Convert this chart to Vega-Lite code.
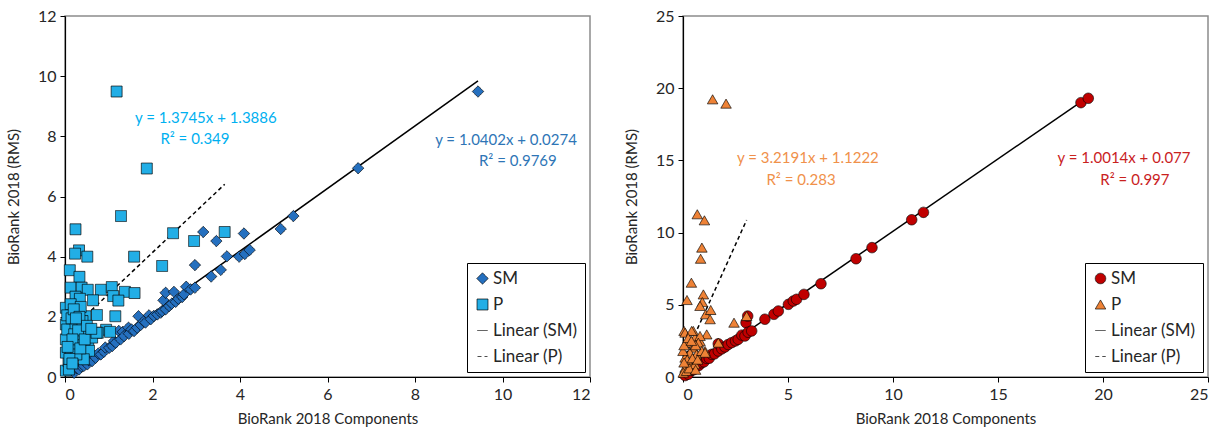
{
  "$schema": "https://vega.github.io/schema/vega-lite/v6.json",
  "padding": {"left": 5, "top": 7, "right": 5, "bottom": 5},
  "background": "white",
  "spacing": 31,
  "config": {
    "font": "Lato",
    "view": {"stroke": "#8c8c8c", "strokeWidth": 1.5},
    "axis": {"grid": false, "domainColor": "black", "domainWidth": 1.2, "tickColor": "black", "tickSize": 5, "labelFontSize": 16, "titleFontSize": 15, "titleFontWeight": "normal", "labelColor": "#262626", "titleColor": "#262626", "labelPadding": 4},
    "axisY": {"titlePadding": 16},
    "axisX": {"titlePadding": 9},
    "legend": {"title": null, "orient": "bottom-right", "offset": 5, "strokeColor": "black", "fillColor": "white", "padding": 7, "labelFontSize": 17, "labelColor": "#262626", "rowPadding": 8, "labelOffset": 2, "symbolOpacity": 1, "symbolSize": 576, "symbolStrokeColor": "black"}
  },
  "datasets": {
    "left_points": [
      {"series":"SM","x":0.21,"y":0.14},{"series":"SM","x":0.26,"y":0.3},{"series":"SM","x":0.32,"y":0.25},{"series":"SM","x":0.38,"y":0.35},{"series":"SM","x":0.43,"y":0.37},{"series":"SM","x":0.51,"y":0.42},{"series":"SM","x":0.55,"y":0.55},{"series":"SM","x":0.62,"y":0.53},{"series":"SM","x":0.66,"y":0.72},{"series":"SM","x":0.7,"y":0.64},{"series":"SM","x":0.76,"y":0.78},{"series":"SM","x":0.82,"y":0.75},{"series":"SM","x":0.89,"y":0.84},{"series":"SM","x":0.92,"y":0.98},{"series":"SM","x":1.01,"y":0.97},{"series":"SM","x":1.08,"y":1.03},{"series":"SM","x":1.12,"y":1.2},{"series":"SM","x":1.16,"y":1.14},{"series":"SM","x":1.23,"y":1.53},{"series":"SM","x":1.27,"y":1.25},{"series":"SM","x":1.32,"y":1.5},{"series":"SM","x":1.35,"y":1.36},{"series":"SM","x":1.45,"y":1.64},{"series":"SM","x":1.46,"y":1.44},{"series":"SM","x":1.52,"y":1.58},{"series":"SM","x":1.58,"y":1.53},{"series":"SM","x":1.65,"y":1.64},{"series":"SM","x":1.68,"y":2.02},{"series":"SM","x":1.73,"y":1.73},{"series":"SM","x":1.8,"y":1.85},{"series":"SM","x":1.84,"y":1.81},{"series":"SM","x":1.92,"y":2.05},{"series":"SM","x":1.96,"y":1.92},{"series":"SM","x":2.03,"y":2.03},{"series":"SM","x":2.11,"y":2.08},{"series":"SM","x":2.19,"y":2.14},{"series":"SM","x":2.22,"y":2.19},{"series":"SM","x":2.25,"y":2.55},{"series":"SM","x":2.3,"y":2.8},{"series":"SM","x":2.3,"y":2.25},{"series":"SM","x":2.38,"y":2.36},{"series":"SM","x":2.44,"y":2.44},{"series":"SM","x":2.49,"y":2.83},{"series":"SM","x":2.53,"y":2.5},{"series":"SM","x":2.59,"y":2.6},{"series":"SM","x":2.68,"y":2.66},{"series":"SM","x":2.72,"y":2.75},{"series":"SM","x":2.77,"y":3.0},{"series":"SM","x":2.87,"y":2.91},{"series":"SM","x":2.97,"y":2.97},{"series":"SM","x":2.97,"y":3.72},{"series":"SM","x":3.16,"y":4.82},{"series":"SM","x":3.34,"y":3.34},{"series":"SM","x":3.46,"y":4.52},{"series":"SM","x":3.56,"y":3.56},{"series":"SM","x":3.7,"y":4.01},{"series":"SM","x":3.98,"y":4.0},{"series":"SM","x":4.09,"y":4.77},{"series":"SM","x":4.11,"y":4.09},{"series":"SM","x":4.22,"y":4.22},{"series":"SM","x":4.93,"y":4.92},{"series":"SM","x":5.22,"y":5.35},{"series":"SM","x":6.7,"y":6.94},{"series":"SM","x":9.44,"y":9.49},
      {"series":"P","x":1.18,"y":9.49},{"series":"P","x":1.87,"y":6.93},{"series":"P","x":1.28,"y":5.35},{"series":"P","x":0.24,"y":4.91},{"series":"P","x":0.32,"y":4.21},{"series":"P","x":0.23,"y":4.1},{"series":"P","x":0.51,"y":4.0},{"series":"P","x":1.58,"y":4.0},{"series":"P","x":2.47,"y":4.78},{"series":"P","x":2.95,"y":4.52},{"series":"P","x":3.65,"y":4.82},{"series":"P","x":2.22,"y":3.69},{"series":"P","x":0.11,"y":3.55},{"series":"P","x":0.33,"y":3.33},{"series":"P","x":0.13,"y":2.97},{"series":"P","x":0.38,"y":2.97},{"series":"P","x":0.52,"y":2.9},{"series":"P","x":0.82,"y":2.9},{"series":"P","x":1.07,"y":2.99},{"series":"P","x":1.1,"y":2.69},{"series":"P","x":1.37,"y":2.83},{"series":"P","x":1.59,"y":2.79},{"series":"P","x":1.22,"y":2.54},{"series":"P","x":0.64,"y":2.55},{"series":"P","x":0.24,"y":2.67},{"series":"P","x":0.34,"y":2.6},{"series":"P","x":1.15,"y":2.02},{"series":"P","x":0.73,"y":2.06},{"series":"P","x":0.47,"y":2.02},{"series":"P","x":0.94,"y":1.57},{"series":"P","x":0.75,"y":1.47},{"series":"P","x":0.53,"y":1.58},{"series":"P","x":0.53,"y":1.14},{"series":"P","x":0.55,"y":0.87},{"series":"P","x":0.3,"y":0.75},{"series":"P","x":0.08,"y":1.17},{"series":"P","x":0.02,"y":0.21},{"series":"P","x":0.08,"y":0.53},{"series":"P","x":0.02,"y":0.81},{"series":"P","x":0.02,"y":1.25},{"series":"P","x":0.02,"y":1.75},{"series":"P","x":0.02,"y":2.3},{"series":"P","x":0.05,"y":1.58},{"series":"P","x":0.13,"y":2.42},{"series":"P","x":0.21,"y":2.14},{"series":"P","x":0.24,"y":1.75},{"series":"P","x":0.4,"y":1.42},{"series":"P","x":0.28,"y":1.09},{"series":"P","x":0.13,"y":0.92},{"series":"P","x":0.21,"y":1.42},{"series":"P","x":0.4,"y":1.86},{"series":"P","x":0.36,"y":2.33},{"series":"P","x":0.09,"y":0.25},{"series":"P","x":0.43,"y":0.59},{"series":"P","x":0.62,"y":1.31},{"series":"P","x":0.72,"y":1.47},{"series":"P","x":1.03,"y":1.5},{"series":"P","x":0.26,"y":0.75},{"series":"P","x":0.05,"y":2.05},{"series":"P","x":0.15,"y":1.95},{"series":"P","x":0.3,"y":1.55},{"series":"P","x":0.17,"y":1.25},{"series":"P","x":0.1,"y":0.6},{"series":"P","x":0.35,"y":0.95},{"series":"P","x":0.45,"y":1.25},{"series":"P","x":0.2,"y":2.25},{"series":"P","x":0.06,"y":1.0},{"series":"P","x":0.33,"y":2.0},{"series":"P","x":0.5,"y":1.7},{"series":"P","x":0.6,"y":1.6},{"series":"P","x":0.17,"y":0.45},{"series":"P","x":0.25,"y":1.95}
    ],
    "left_trend": [
      {"series":"Linear (SM)","x":0.2,"y":0.2354},{"series":"Linear (SM)","x":9.44,"y":9.847},
      {"series":"Linear (P)","x":0.02,"y":1.416},{"series":"Linear (P)","x":3.65,"y":6.406}
    ],
    "left_labels": [
      {"series":"P","label":"y = 1.3745x + 1.3886","x":3.22,"y":8.61},
      {"series":"P","label":"R² = 0.349","x":2.97,"y":7.91},
      {"series":"SM","label":"y = 1.0402x + 0.0274","x":10.08,"y":7.88},
      {"series":"SM","label":"R² = 0.9769","x":10.35,"y":7.18}
    ],
    "right_points": [
      {"series":"SM","x":0.1,"y":0.1},{"series":"SM","x":0.25,"y":0.19},{"series":"SM","x":0.41,"y":0.46},{"series":"SM","x":0.5,"y":0.5},{"series":"SM","x":0.65,"y":0.76},{"series":"SM","x":0.75,"y":0.8},{"series":"SM","x":0.89,"y":0.99},{"series":"SM","x":1.0,"y":1.05},{"series":"SM","x":1.13,"y":1.29},{"series":"SM","x":1.25,"y":1.3},{"series":"SM","x":1.37,"y":1.57},{"series":"SM","x":1.5,"y":1.6},{"series":"SM","x":1.68,"y":1.8},{"series":"SM","x":1.68,"y":2.3},{"series":"SM","x":1.85,"y":1.95},{"series":"SM","x":2.0,"y":2.08},{"series":"SM","x":2.15,"y":2.25},{"series":"SM","x":2.32,"y":2.38},{"series":"SM","x":2.5,"y":2.5},{"series":"SM","x":2.63,"y":2.61},{"series":"SM","x":2.8,"y":2.9},{"series":"SM","x":2.95,"y":2.84},{"series":"SM","x":3.0,"y":3.76},{"series":"SM","x":3.08,"y":4.22},{"series":"SM","x":3.1,"y":3.1},{"series":"SM","x":3.27,"y":3.19},{"series":"SM","x":3.9,"y":4.0},{"series":"SM","x":4.33,"y":4.34},{"series":"SM","x":4.54,"y":4.57},{"series":"SM","x":5.02,"y":5.03},{"series":"SM","x":5.25,"y":5.26},{"series":"SM","x":5.41,"y":5.38},{"series":"SM","x":5.76,"y":5.72},{"series":"SM","x":6.57,"y":6.46},{"series":"SM","x":8.24,"y":8.19},{"series":"SM","x":9.0,"y":8.96},{"series":"SM","x":10.89,"y":10.89},{"series":"SM","x":11.45,"y":11.4},{"series":"SM","x":18.95,"y":19.0},{"series":"SM","x":19.3,"y":19.3},
      {"series":"P","x":1.41,"y":19.23},{"series":"P","x":2.05,"y":18.93},{"series":"P","x":0.68,"y":11.27},{"series":"P","x":1.02,"y":10.85},{"series":"P","x":0.9,"y":8.96},{"series":"P","x":0.84,"y":8.19},{"series":"P","x":0.4,"y":6.53},{"series":"P","x":0.19,"y":5.33},{"series":"P","x":0.97,"y":5.72},{"series":"P","x":0.92,"y":5.19},{"series":"P","x":0.81,"y":4.92},{"series":"P","x":1.08,"y":4.34},{"series":"P","x":1.32,"y":4.64},{"series":"P","x":1.29,"y":4.0},{"series":"P","x":2.43,"y":3.76},{"series":"P","x":3.03,"y":4.22},{"series":"P","x":0.05,"y":3.19},{"series":"P","x":0.49,"y":3.19},{"series":"P","x":1.13,"y":2.95},{"series":"P","x":0.57,"y":2.72},{"series":"P","x":0.81,"y":2.49},{"series":"P","x":1.05,"y":1.8},{"series":"P","x":1.68,"y":2.38},{"series":"P","x":0.1,"y":3.07},{"series":"P","x":0.41,"y":3.19},{"series":"P","x":0.81,"y":2.84},{"series":"P","x":0.17,"y":2.38},{"series":"P","x":0.49,"y":2.03},{"series":"P","x":0.73,"y":2.38},{"series":"P","x":0.33,"y":1.68},{"series":"P","x":0.65,"y":1.57},{"series":"P","x":0.1,"y":1.34},{"series":"P","x":0.89,"y":1.8},{"series":"P","x":0.33,"y":0.99},{"series":"P","x":0.1,"y":0.64},{"series":"P","x":0.57,"y":0.88},{"series":"P","x":0.01,"y":0.3},{"series":"P","x":0.17,"y":0.42},{"series":"P","x":1.05,"y":1.68},{"series":"P","x":0.0,"y":1.8},{"series":"P","x":0.05,"y":2.2},{"series":"P","x":0.25,"y":2.7},{"series":"P","x":0.6,"y":2.2},{"series":"P","x":0.4,"y":2.5},{"series":"P","x":0.2,"y":1.2},{"series":"P","x":0.45,"y":1.3},{"series":"P","x":0.7,"y":1.2},{"series":"P","x":0.3,"y":0.6},{"series":"P","x":0.05,"y":1.0},{"series":"P","x":0.6,"y":0.5}
    ],
    "right_trend": [
      {"series":"Linear (SM)","x":0.1,"y":0.177},{"series":"Linear (SM)","x":19.3,"y":19.404},
      {"series":"Linear (P)","x":0.0,"y":1.1222},{"series":"Linear (P)","x":3.03,"y":10.876}
    ],
    "right_labels": [
      {"series":"P","label":"y = 3.2191x + 1.1222","x":5.95,"y":15.17},
      {"series":"P","label":"R² = 0.283","x":5.62,"y":13.64},
      {"series":"SM","label":"y = 1.0014x + 0.077","x":21.0,"y":15.17},
      {"series":"SM","label":"R² = 0.997","x":21.52,"y":13.64}
    ]
  },
  "hconcat": [
    {
      "width": 525,
      "height": 361,
      "encoding": {
        "x": {"field": "x", "type": "quantitative", "scale": {"domain": [0, 12], "nice": false}, "axis": {"values": [0,2,4,6,8,10,12], "title": "BioRank 2018 Components"}},
        "y": {"field": "y", "type": "quantitative", "scale": {"domain": [0, 12], "nice": false}, "axis": {"values": [0,2,4,6,8,10,12], "title": "BioRank 2018 (RMS)"}}
      },
      "layer": [
        {
          "data": {"name": "left_trend"},
          "transform": [{"filter": "datum.series == 'Linear (SM)'"}],
          "mark": {"type": "line", "color": "black", "strokeWidth": 1.5},
          "encoding": {}
        },
        {
          "data": {"name": "left_trend"},
          "transform": [{"filter": "datum.series == 'Linear (P)'"}],
          "mark": {"type": "line", "color": "black", "strokeWidth": 1.5, "strokeDash": [4, 3]},
          "encoding": {}
        },
        {
          "data": {"name": "left_points"},
          "mark": {"type": "point", "filled": true, "stroke": "black", "opacity": 1},
          "encoding": {
            "color": {"field": "series", "type": "nominal", "scale": {"domain": ["SM", "P", "Linear (SM)", "Linear (P)"], "range": ["#2570BF", "#22AEE6", "black", "black"]},
              "legend": {"encode": {"symbols": {"update": {"size": {"signal": "indexof(datum.value, 'Linear') == 0 ? 2304 : 75"}, "stroke": {"value": "black"}}}}}},
            "shape": {"field": "series", "type": "nominal", "scale": {"domain": ["SM", "P", "Linear (SM)", "Linear (P)"], "range": ["diamond", "square", "stroke", "stroke"]},
              "legend": {"encode": {"symbols": {"update": {"size": {"signal": "indexof(datum.value, 'Linear') == 0 ? 2304 : 75"}, "stroke": {"value": "black"}}}}}},
            "size": {"field": "series", "type": "nominal", "scale": {"domain": ["SM", "P", "Linear (SM)", "Linear (P)"], "range": [130, 100, 2304, 2304]},
              "legend": {"encode": {"symbols": {"update": {"size": {"signal": "indexof(datum.value, 'Linear') == 0 ? 2304 : 75"}, "stroke": {"value": "black"}}}}}},
            "strokeDash": {"field": "series", "type": "nominal", "scale": {"domain": ["SM", "P", "Linear (SM)", "Linear (P)"], "range": [[1, 0], [1, 0], [1, 0], [4, 3]]},
              "legend": {"encode": {"symbols": {"update": {"size": {"signal": "indexof(datum.value, 'Linear') == 0 ? 2304 : 75"}, "stroke": {"value": "black"}}}}}},
            "strokeWidth": {"field": "series", "type": "nominal", "scale": {"domain": ["SM", "P", "Linear (SM)", "Linear (P)"], "range": [0.7, 0.7, 1.5, 1.5]},
              "legend": {"encode": {"symbols": {"update": {"size": {"signal": "indexof(datum.value, 'Linear') == 0 ? 2304 : 75"}, "stroke": {"value": "black"}}}}}}
          }
        },
        {
          "data": {"name": "left_labels"},
          "transform": [{"filter": "datum.series == 'P'"}],
          "mark": {"type": "text", "color": "#00B0F0", "fontSize": 15, "align": "center", "baseline": "middle"},
          "encoding": {"text": {"field": "label"}}
        },
        {
          "data": {"name": "left_labels"},
          "transform": [{"filter": "datum.series == 'SM'"}],
          "mark": {"type": "text", "color": "#2E75B6", "fontSize": 15, "align": "center", "baseline": "middle"},
          "encoding": {"text": {"field": "label"}}
        }
      ]
    },
    {
      "width": 525,
      "height": 361,
      "encoding": {
        "x": {"field": "x", "type": "quantitative", "scale": {"domain": [0, 25], "nice": false}, "axis": {"values": [0,5,10,15,20,25], "title": "BioRank 2018 Components"}},
        "y": {"field": "y", "type": "quantitative", "scale": {"domain": [0, 25], "nice": false}, "axis": {"values": [0,5,10,15,20,25], "title": "BioRank 2018 (RMS)"}}
      },
      "layer": [
        {
          "data": {"name": "right_trend"},
          "transform": [{"filter": "datum.series == 'Linear (SM)'"}],
          "mark": {"type": "line", "color": "black", "strokeWidth": 1.5},
          "encoding": {}
        },
        {
          "data": {"name": "right_trend"},
          "transform": [{"filter": "datum.series == 'Linear (P)'"}],
          "mark": {"type": "line", "color": "black", "strokeWidth": 1.5, "strokeDash": [4, 3]},
          "encoding": {}
        },
        {
          "data": {"name": "right_points"},
          "mark": {"type": "point", "filled": true, "stroke": "black", "opacity": 1},
          "encoding": {
            "color": {"field": "series", "type": "nominal", "scale": {"domain": ["SM", "P", "Linear (SM)", "Linear (P)"], "range": ["#C00000", "#EE8236", "black", "black"]},
              "legend": {"encode": {"symbols": {"update": {"size": {"signal": "indexof(datum.value, 'Linear') == 0 ? 2304 : 75"}, "stroke": {"value": "black"}}}}}},
            "shape": {"field": "series", "type": "nominal", "scale": {"domain": ["SM", "P", "Linear (SM)", "Linear (P)"], "range": ["circle", "triangle-up", "stroke", "stroke"]},
              "legend": {"encode": {"symbols": {"update": {"size": {"signal": "indexof(datum.value, 'Linear') == 0 ? 2304 : 75"}, "stroke": {"value": "black"}}}}}},
            "size": {"field": "series", "type": "nominal", "scale": {"domain": ["SM", "P", "Linear (SM)", "Linear (P)"], "range": [110, 110, 2304, 2304]},
              "legend": {"encode": {"symbols": {"update": {"size": {"signal": "indexof(datum.value, 'Linear') == 0 ? 2304 : 75"}, "stroke": {"value": "black"}}}}}},
            "strokeDash": {"field": "series", "type": "nominal", "scale": {"domain": ["SM", "P", "Linear (SM)", "Linear (P)"], "range": [[1, 0], [1, 0], [1, 0], [4, 3]]},
              "legend": {"encode": {"symbols": {"update": {"size": {"signal": "indexof(datum.value, 'Linear') == 0 ? 2304 : 75"}, "stroke": {"value": "black"}}}}}},
            "strokeWidth": {"field": "series", "type": "nominal", "scale": {"domain": ["SM", "P", "Linear (SM)", "Linear (P)"], "range": [0.7, 0.7, 1.5, 1.5]},
              "legend": {"encode": {"symbols": {"update": {"size": {"signal": "indexof(datum.value, 'Linear') == 0 ? 2304 : 75"}, "stroke": {"value": "black"}}}}}}
          }
        },
        {
          "data": {"name": "right_labels"},
          "transform": [{"filter": "datum.series == 'P'"}],
          "mark": {"type": "text", "color": "#F0914A", "fontSize": 15, "align": "center", "baseline": "middle"},
          "encoding": {"text": {"field": "label"}}
        },
        {
          "data": {"name": "right_labels"},
          "transform": [{"filter": "datum.series == 'SM'"}],
          "mark": {"type": "text", "color": "#C9211E", "fontSize": 15, "align": "center", "baseline": "middle"},
          "encoding": {"text": {"field": "label"}}
        }
      ]
    }
  ],
  "resolve": {"scale": {"color": "independent", "shape": "independent", "size": "independent", "strokeDash": "independent", "strokeWidth": "independent", "x": "independent", "y": "independent"}, "legend": {"color": "independent", "shape": "independent", "size": "independent", "strokeDash": "independent", "strokeWidth": "independent"}}
}
